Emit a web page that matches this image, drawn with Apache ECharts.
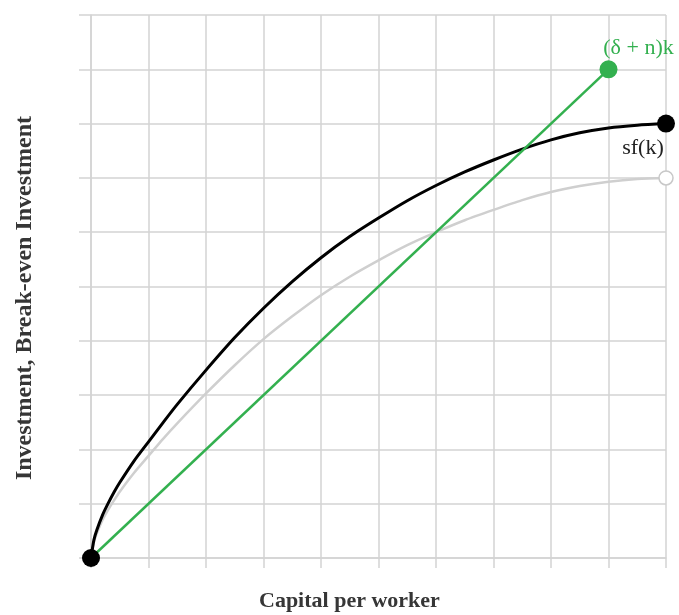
<!DOCTYPE html>
<html>
<head>
<meta charset="utf-8">
<script src="https://cdn.jsdelivr.net/npm/echarts@6/dist/echarts.min.js"></script>
<style>
  html, body { margin: 0; padding: 0; background: #fff; }
  #chart { width: 679px; height: 615px; }
</style>
</head>
<body>
<div id="chart"></div>
<script>
// Capital per worker (k)
const capital = [0, 0.05, 0.1, 0.2, 0.3, 0.4, 0.5, 0.75, 1, 1.25, 1.5, 2, 2.5, 3, 3.5, 4, 4.5, 5, 5.5, 6, 6.5, 7, 7.5, 8, 8.5, 9, 9.5, 10];
// Investment sf(k) at the higher saving rate
const investment = [0, 0.33, 0.51, 0.79, 1.01, 1.21, 1.39, 1.79, 2.14, 2.49, 2.83, 3.46, 4.06, 4.60, 5.09, 5.53, 5.92, 6.26, 6.58, 6.86, 7.11, 7.33, 7.53, 7.70, 7.83, 7.92, 7.97, 8.0];
// Investment at the lower saving rate
const investmentLow = [0, 0.29, 0.45, 0.70, 0.89, 1.06, 1.22, 1.57, 1.88, 2.19, 2.48, 3.03, 3.55, 4.03, 4.45, 4.84, 5.18, 5.48, 5.76, 6.00, 6.22, 6.41, 6.59, 6.74, 6.85, 6.93, 6.98, 7.0];
// Break-even investment (δ + n)k
const breakEvenK = [0, 9];
const breakEven = [0, 9];

const pairs = (xs, ys) => xs.map((x, i) => [x, ys[i]]);
const last = a => a[a.length - 1];

const serif = '"Liberation Serif", "DejaVu Serif", serif';
const gridColor = '#d3d3d3';
const green = '#33b04f';
const titleColor = '#363636';

const chart = echarts.init(document.getElementById('chart'));
chart.setOption({
  animation: false,
  grid: { left: 91, right: 13, top: 15, bottom: 57 },
  graphic: [
    {
      type: 'text', left: 259, top: 590,
      style: { text: 'Capital per worker', font: 'bold 22px ' + serif, fill: titleColor }
    },
    {
      type: 'text', x: 25, y: 298, rotation: Math.PI / 2,
      style: {
        text: 'Investment, Break-even Investment', font: 'bold 24px ' + serif, fill: titleColor,
        align: 'center', verticalAlign: 'middle'
      }
    }
  ],
  xAxis: {
    type: 'value', min: 0, max: 10, interval: 1,
    axisLine: { lineStyle: { color: gridColor, width: 1.5 } },
    axisTick: { show: true, length: 10, lineStyle: { color: gridColor, width: 1.5 } },
    axisLabel: { show: false },
    splitLine: { show: true, lineStyle: { color: gridColor, width: 1.5 } }
  },
  yAxis: {
    type: 'value', min: 0, max: 10, interval: 1,
    axisLine: { show: true, lineStyle: { color: gridColor, width: 1.5 } },
    axisTick: { show: true, length: 12, lineStyle: { color: gridColor, width: 1.5 } },
    axisLabel: { show: false },
    splitLine: { show: true, lineStyle: { color: gridColor, width: 1.5 } }
  },
  series: [
    {
      type: 'line', smooth: 0.25, showSymbol: false, z: 2,
      data: pairs(capital, investmentLow),
      lineStyle: { color: '#cfcfcf', width: 2.5 }
    },
    {
      type: 'scatter', z: 3, symbolSize: 14,
      data: [[last(capital), last(investmentLow)]],
      itemStyle: { color: '#fff', borderColor: '#c8c8c8', borderWidth: 1.5, opacity: 1 }
    },
    {
      type: 'line', smooth: 0.25, showSymbol: false, z: 4,
      data: pairs(capital, investment),
      lineStyle: { color: '#000', width: 3 }
    },
    {
      type: 'line', showSymbol: false, z: 5,
      data: pairs(breakEvenK, breakEven),
      lineStyle: { color: green, width: 2.5 }
    },
    {
      type: 'scatter', z: 6, symbolSize: 18,
      data: [
        { value: [capital[0], investment[0]] },
        {
          value: [last(capital), last(investment)],
          label: {
            show: true, formatter: 'sf(k)', position: 'bottom', offset: [-23, 0],
            fontFamily: serif, fontSize: 22, color: '#222'
          }
        }
      ],
      itemStyle: { color: '#000', opacity: 1 }
    },
    {
      type: 'scatter', z: 7, symbolSize: 18,
      data: [{
        value: [last(breakEvenK), last(breakEven)],
        label: {
          show: true, formatter: '(δ + n)k', position: 'top', offset: [30, 4],
          fontFamily: serif, fontSize: 22, color: green
        }
      }],
      itemStyle: { color: green, opacity: 1 }
    }
  ]
});
</script>
</body>
</html>
